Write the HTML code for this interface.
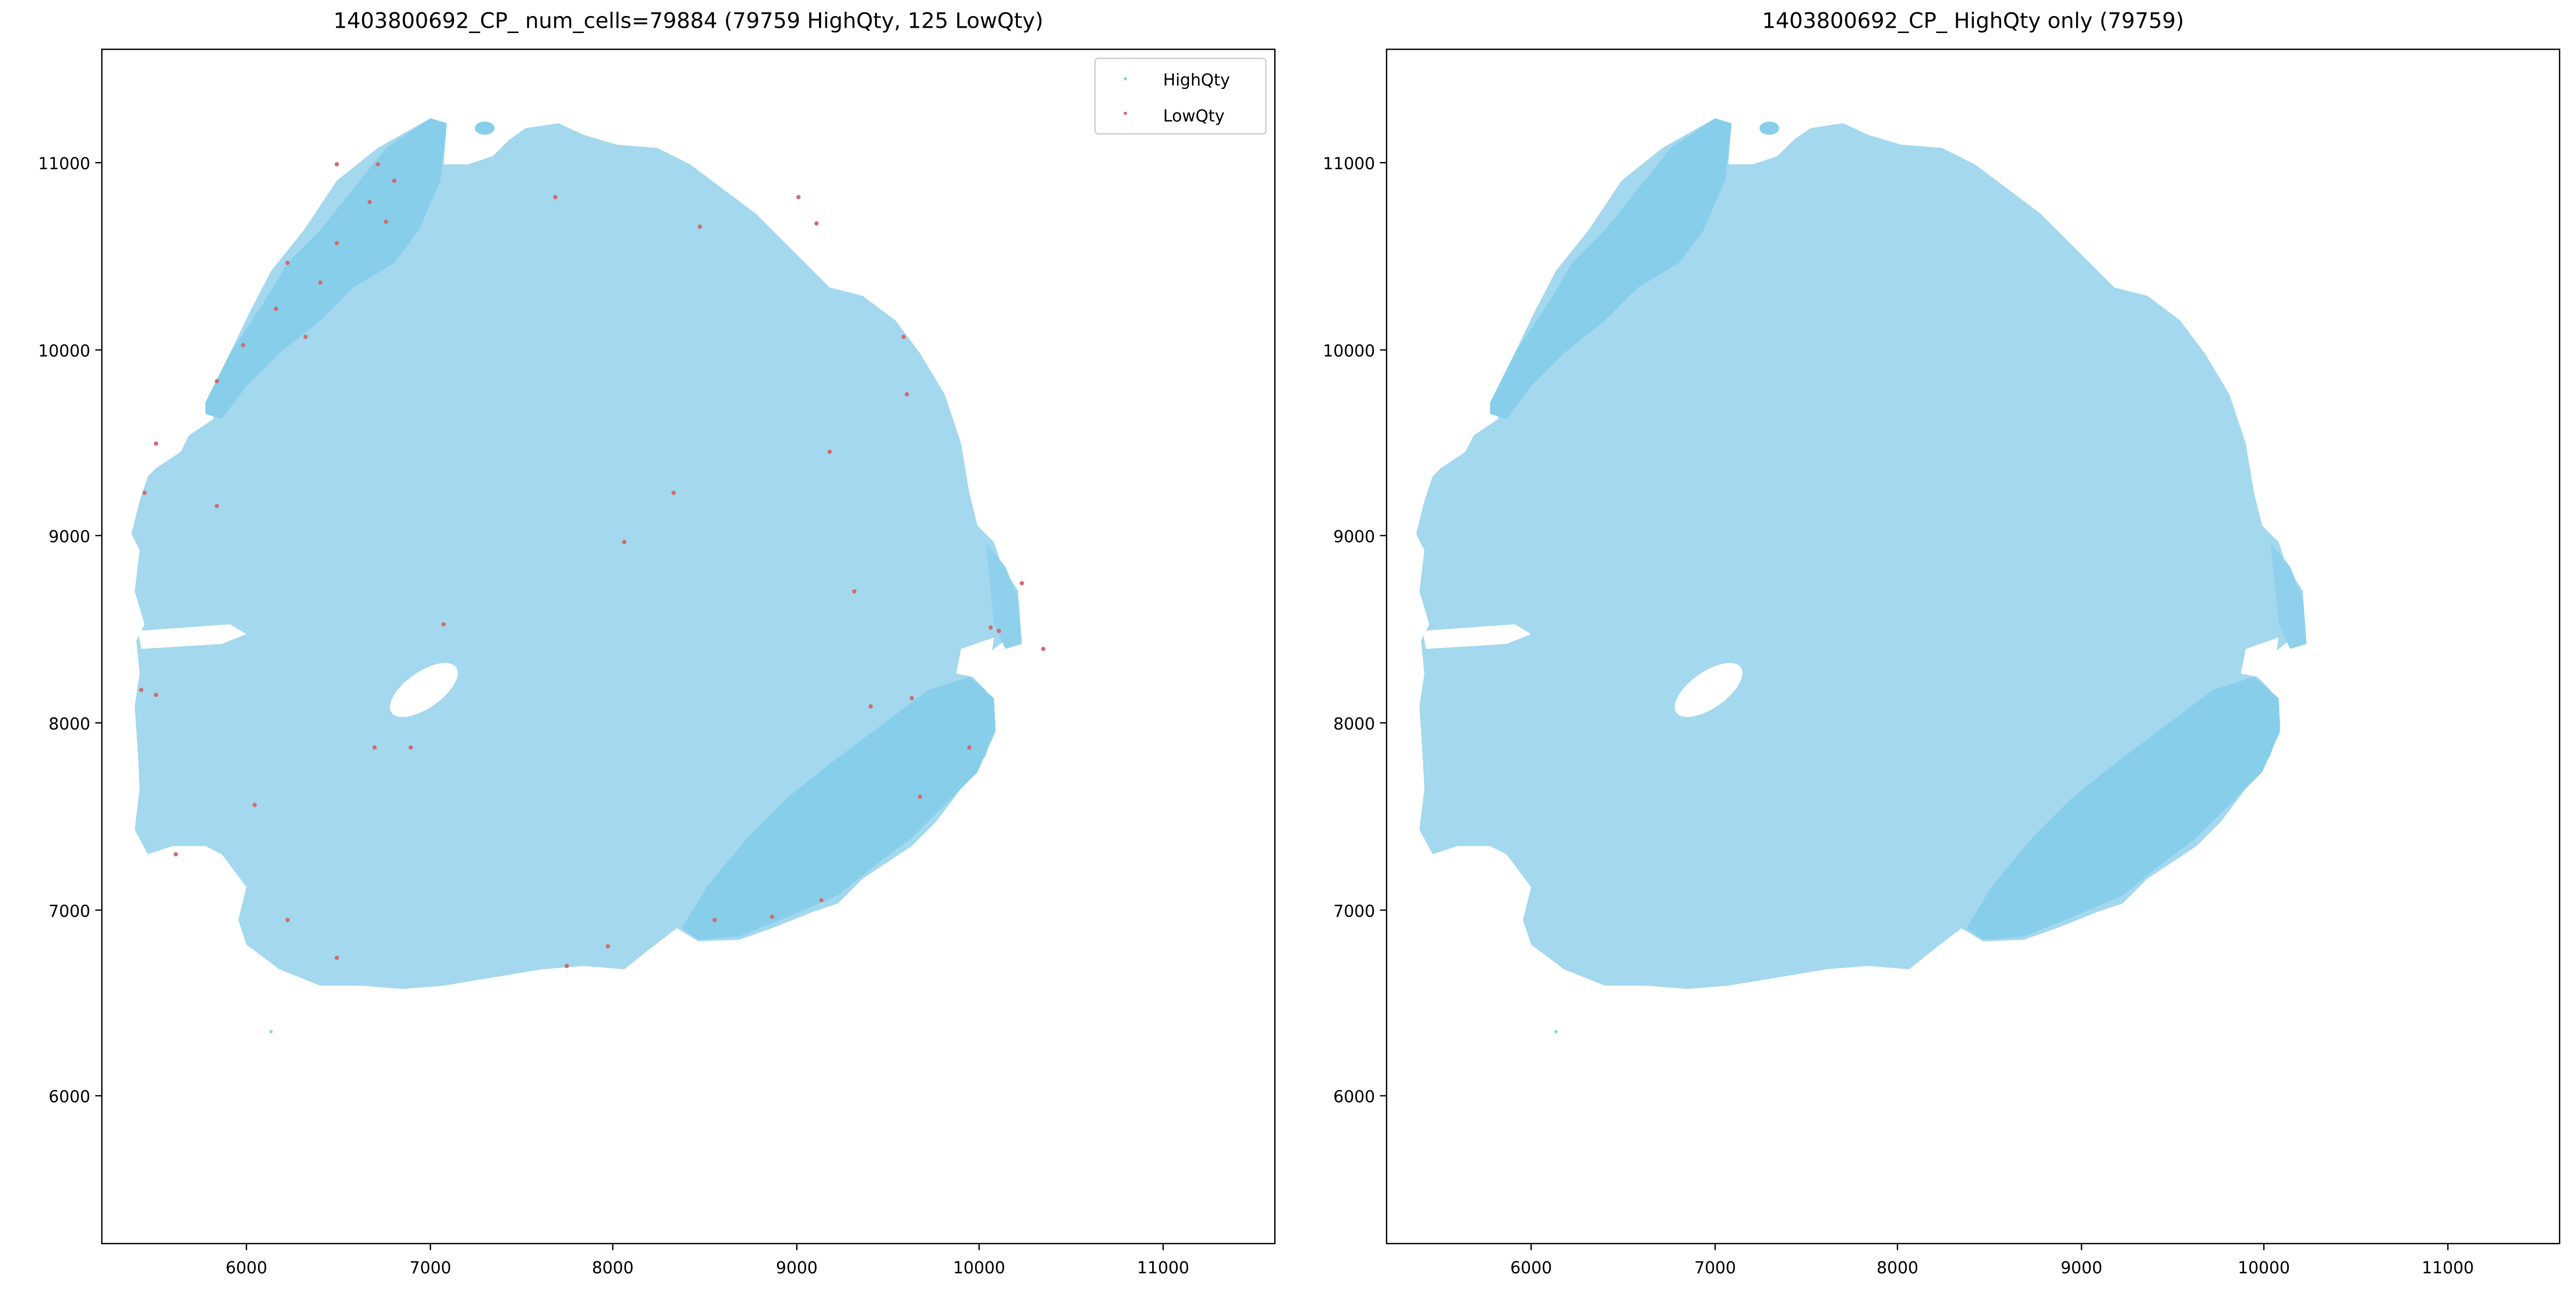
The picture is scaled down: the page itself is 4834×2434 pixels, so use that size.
<!DOCTYPE html>
<html><head><meta charset="utf-8"><style>html,body{margin:0;padding:0;background:#fff}svg{display:block}text{font-family:"DejaVu Sans","Liberation Sans",sans-serif}</style></head>
<body>
<svg xmlns="http://www.w3.org/2000/svg" width="4834" height="2434" viewBox="0 0 1568 789.5">
<defs>
<g id="tissue">
<polygon fill="#a3d8ee" points="152,190 165,165 185,140 205,110 230,90 262,72 272,75 270,100 285,100 300,95 310,85 320,78 340,75 355,82 375,88 400,90 420,100 440,115 460,130 475,145 490,160 505,175 525,180 545,195 560,215 575,240 585,270 590,300 595,320 605,330 610,345 620,360 618,385 605,395 590,410 600,420 606,440 600,460 585,480 570,500 555,515 540,525 525,535 510,550 495,555 470,565 450,572 425,573 412,565 395,578 380,590 355,588 330,590 300,595 270,600 245,602 220,600 195,600 170,590 150,575 145,560 150,540 135,520 125,515 105,515 90,520 82,505 85,480 84,460 82,430 85,410 83,390 88,380 82,360 85,335 80,325 85,305 90,290 95,285 110,275 115,265 130,255 128,240 140,215"/>
<polygon fill="#87ceeb" points="125,245 140,215 160,185 175,160 195,140 215,115 235,90 262,72 272,75 268,110 255,140 240,160 215,175 195,195 170,215 150,235 135,255 125,252"/>
<polygon fill="#87ceeb" points="415,565 430,540 455,510 480,485 505,465 525,450 545,435 565,420 590,412 605,425 606,445 595,470 575,490 555,510 535,525 510,545 480,558 450,570 425,572"/>
<polygon fill="#8fd1ec" points="600,330 612,345 620,365 622,392 612,395 605,380"/>
<ellipse cx="258" cy="420" rx="24" ry="11" fill="#fff" transform="rotate(-35 258 420)"/>
<polygon fill="#fff" points="84,384 140,380 150,386 135,392 86,395"/>
<polygon fill="#fff" points="585,395 605,388 603,402 592,412 582,410"/>
<ellipse cx="295" cy="78" rx="6" ry="4" fill="#87ceeb"/>
<circle cx="165" cy="628" r="1" fill="#87ceeb"/>
</g>
</defs>
<rect width="1568" height="789.5" fill="#fff"/>
<!-- left -->
<use href="#tissue"/>
<g fill="#d46a6a">
<circle cx="205" cy="100" r="1.3"/><circle cx="230" cy="100" r="1.3"/><circle cx="240" cy="110" r="1.3"/><circle cx="225" cy="123" r="1.3"/><circle cx="205" cy="148" r="1.3"/><circle cx="235" cy="135" r="1.3"/><circle cx="175" cy="160" r="1.3"/><circle cx="195" cy="172" r="1.3"/><circle cx="168" cy="188" r="1.3"/><circle cx="186" cy="205" r="1.3"/><circle cx="148" cy="210" r="1.3"/><circle cx="132" cy="232" r="1.3"/><circle cx="95" cy="270" r="1.3"/><circle cx="88" cy="300" r="1.3"/><circle cx="132" cy="308" r="1.3"/><circle cx="338" cy="120" r="1.3"/><circle cx="486" cy="120" r="1.3"/><circle cx="497" cy="136" r="1.3"/><circle cx="426" cy="138" r="1.3"/><circle cx="550" cy="205" r="1.3"/><circle cx="552" cy="240" r="1.3"/><circle cx="270" cy="380" r="1.3"/><circle cx="380" cy="330" r="1.3"/><circle cx="520" cy="360" r="1.3"/><circle cx="603" cy="382" r="1.3"/><circle cx="622" cy="355" r="1.3"/><circle cx="530" cy="430" r="1.3"/><circle cx="555" cy="425" r="1.3"/><circle cx="590" cy="455" r="1.3"/><circle cx="560" cy="485" r="1.3"/><circle cx="500" cy="548" r="1.3"/><circle cx="470" cy="558" r="1.3"/><circle cx="435" cy="560" r="1.3"/><circle cx="228" cy="455" r="1.3"/><circle cx="250" cy="455" r="1.3"/><circle cx="155" cy="490" r="1.3"/><circle cx="107" cy="520" r="1.3"/><circle cx="175" cy="560" r="1.3"/><circle cx="205" cy="583" r="1.3"/><circle cx="345" cy="588" r="1.3"/><circle cx="370" cy="576" r="1.3"/><circle cx="86" cy="420" r="1.3"/><circle cx="95" cy="423" r="1.3"/><circle cx="608" cy="384" r="1.3"/><circle cx="635" cy="395" r="1.3"/><circle cx="410" cy="300" r="1.3"/><circle cx="505" cy="275" r="1.3"/>
</g>
<rect x="62" y="30" width="714" height="727" fill="none" stroke="#000" stroke-width="0.8"/>
<text x="419" y="17" font-size="13" text-anchor="middle">1403800692_CP_ num_cells=79884 (79759 HighQty, 125 LowQty)</text>
<rect x="666.5" y="35.5" width="104" height="46" rx="2" fill="#fff" fill-opacity="0.8" stroke="#ccc" stroke-width="0.8"/>
<circle cx="685" cy="48" r="1" fill="#87ceeb"/><text x="708" y="52" font-size="10">HighQty</text>
<circle cx="685" cy="69" r="1" fill="#d46a6a"/><text x="708" y="74" font-size="10">LowQty</text>
<!-- right -->
<use href="#tissue" transform="translate(782 0)"/>
<rect x="844" y="30" width="714" height="727" fill="none" stroke="#000" stroke-width="0.8"/>
<text x="1201" y="17" font-size="13" text-anchor="middle">1403800692_CP_ HighQty only (79759)</text>
<!-- ticks -->
<g stroke="#000" stroke-width="0.8">
<path d="M150,757v4M262,757v4M373,757v4M485,757v4M596,757v4M708,757v4M932,757v4M1044,757v4M1155,757v4M1267,757v4M1378,757v4M1490,757v4"/>
<path d="M62,99h-4M62,213h-4M62,326h-4M62,440h-4M62,554h-4M62,667h-4M844,99h-4M844,213h-4M844,326h-4M844,440h-4M844,554h-4M844,667h-4"/>
</g>
<g font-size="10" text-anchor="middle">
<text x="150" y="775">6000</text><text x="262" y="775">7000</text><text x="373" y="775">8000</text><text x="485" y="775">9000</text><text x="596" y="775">10000</text><text x="708" y="775">11000</text>
<text x="932" y="775">6000</text><text x="1044" y="775">7000</text><text x="1155" y="775">8000</text><text x="1267" y="775">9000</text><text x="1378" y="775">10000</text><text x="1490" y="775">11000</text>
</g>
<g font-size="10" text-anchor="end">
<text x="55" y="103">11000</text><text x="55" y="217">10000</text><text x="55" y="330">9000</text><text x="55" y="444">8000</text><text x="55" y="558">7000</text><text x="55" y="671">6000</text>
<text x="837" y="103">11000</text><text x="837" y="217">10000</text><text x="837" y="330">9000</text><text x="837" y="444">8000</text><text x="837" y="558">7000</text><text x="837" y="671">6000</text>
</g>
</svg>
</body></html>
